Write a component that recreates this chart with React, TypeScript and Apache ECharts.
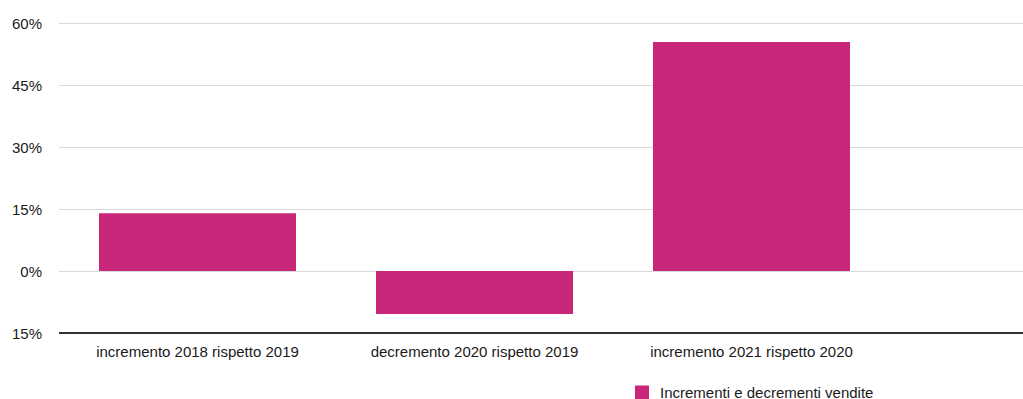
import React, { useEffect, useRef } from "react";
import * as echarts from "echarts";

const categories = [
  "incremento 2018 rispetto 2019",
  "decremento 2020 rispetto 2019",
  "incremento 2021 rispetto 2020",
  "",
];
const seriesName = "Incrementi e decrementi vendite";
const values = [14.0, -10.4, 55.4, null];
const yMin = -15;
const yMax = 60;
const yInterval = 15;

export default function App() {
  const ref = useRef<HTMLDivElement>(null);
  useEffect(() => {
    if (!ref.current) return;
    const chart = echarts.init(ref.current, null, { renderer: "svg" });
    const font = "Liberation Sans, Arial, sans-serif";
    chart.setOption({
      animation: false,
      textStyle: { fontFamily: font },
      grid: { left: 59, top: 23, width: 1108, height: 310, containLabel: false },
      legend: {
        data: [seriesName],
        left: 635,
        top: 385,
        padding: 0,
        itemWidth: 14,
        itemHeight: 14,
        itemGap: 12,
        icon: "rect",
        textStyle: {
          fontSize: 15,
          lineHeight: 14,
          color: "#1a1a1a",
          fontFamily: font,
          padding: [0, 0, 0, 6],
        },
      },
      xAxis: {
        type: "category",
        data: categories,
        axisLine: { show: false },
        axisTick: { show: false },
        axisLabel: { color: "#1a1a1a", fontSize: 15, margin: 11 },
      },
      yAxis: {
        type: "value",
        min: yMin,
        max: yMax,
        interval: yInterval,
        axisLine: { show: false },
        axisTick: { show: false },
        axisLabel: {
          color: "#1a1a1a",
          fontSize: 15,
          margin: 17,
          formatter: (v: number) => `${Math.abs(v)}%`,
        },
        splitLine: { lineStyle: { color: "#d9d9d9", width: 1 } },
      },
      series: [
        {
          name: seriesName,
          type: "bar",
          data: values,
          barWidth: 197,
          itemStyle: { color: "#C8277A" },
          markLine: {
            silent: true,
            symbol: "none",
            label: { show: false },
            lineStyle: { color: "#333", width: 2, type: "solid" },
            data: [{ yAxis: yMin }],
          },
        },
      ],
    });
    return () => chart.dispose();
  }, []);
  return (
    <div style={{ width: 1023, height: 399, position: "absolute", left: 0, top: 0, overflow: "hidden" }}>
      <div ref={ref} style={{ width: 1180, height: 399 }} />
    </div>
  );
}
